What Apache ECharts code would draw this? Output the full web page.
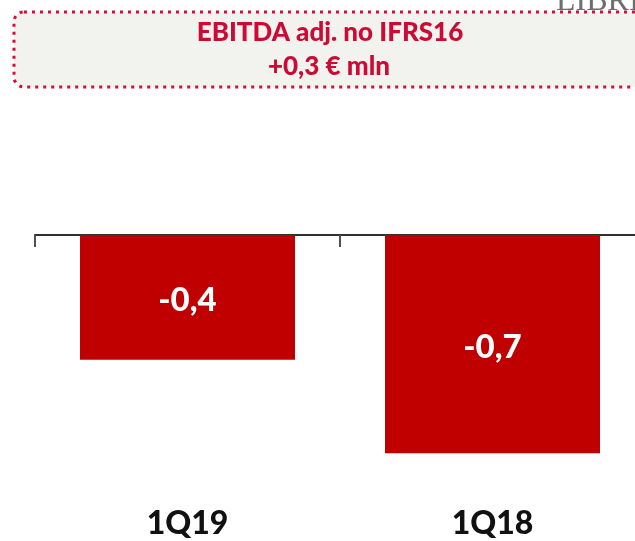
<!DOCTYPE html>
<html>
<head>
<meta charset="utf-8">
<script src="https://cdn.jsdelivr.net/npm/echarts@6/dist/echarts.min.js"></script>
<style>
  html, body { margin: 0; padding: 0; background: #ffffff; }
  #chart { width: 635px; height: 541px; }
</style>
</head>
<body>
<div id="chart"></div>
<script>
const categories = ['1Q19', '1Q18'];
const values = [-0.4, -0.7];
const boxTitle = 'EBITDA adj. no IFRS16';
const boxSubtitle = '+0,3 € mln';
const cornerText = 'LIBRI';

const chart = echarts.init(document.getElementById('chart'), null, { renderer: 'canvas' });

const fmt = v => (v < 0 ? '-' : '') + Math.abs(v).toFixed(1).replace('.', ',');

chart.setOption({
  animation: false,
  backgroundColor: '#ffffff',
  grid: { left: 35, top: 235, width: 610, height: 265, containLabel: false, outerBoundsMode: 'none' },
  xAxis: [
    {
      type: 'category',
      data: categories,
      position: 'top',
      boundaryGap: true,
      axisLine: { show: true, onZero: false, lineStyle: { color: '#303030', width: 2 } },
      axisTick: { show: true, inside: true, length: 12, lineStyle: { color: '#505050', width: 2 } },
      axisLabel: { show: false },
      splitLine: { show: false }
    },
    {
      type: 'category',
      data: categories,
      position: 'bottom',
      axisLine: { show: false },
      axisTick: { show: false },
      axisLabel: {
        show: true,
        margin: 8,
        color: '#111111',
        fontFamily: 'Lato',
        fontWeight: 900,
        fontSize: 32
      },
      splitLine: { show: false }
    }
  ],
  yAxis: {
    type: 'value',
    min: -0.85,
    max: 0,
    show: false,
    splitLine: { show: false }
  },
  series: [
    {
      type: 'bar',
      xAxisIndex: 0,
      data: values,
      barWidth: 215,
      itemStyle: { color: '#c00000' },
      label: {
        show: true,
        position: 'inside',
        offset: [0, 3],
        color: '#ffffff',
        fontFamily: 'Lato',
        fontWeight: 900,
        fontSize: 33,
        formatter: p => fmt(p.value)
      }
    }
  ],
  graphic: [
    {
      type: 'text',
      left: 556,
      top: -14,
      style: {
        text: cornerText,
        fill: '#6e6e6e',
        font: '32px "Liberation Serif", "DejaVu Serif", serif'
      },
      z: 1
    },
    {
      type: 'rect',
      shape: { x: 14, y: 12, width: 660, height: 75, r: 10 },
      style: {
        fill: '#f2f2ee',
        stroke: '#d50f37',
        lineWidth: 3,
        lineDash: [3, 5],
        lineCap: 'butt'
      },
      z: 2
    },
    {
      type: 'text',
      x: 330,
      y: 33,
      style: {
        text: boxTitle,
        fill: '#cc0a33',
        font: '900 26px Lato',
        textAlign: 'center',
        textVerticalAlign: 'middle'
      },
      z: 3
    },
    {
      type: 'text',
      x: 329,
      y: 67,
      style: {
        text: boxSubtitle,
        fill: '#cc0a33',
        font: '900 26px Lato',
        textAlign: 'center',
        textVerticalAlign: 'middle'
      },
      z: 3
    }
  ]
});
</script>
</body>
</html>
